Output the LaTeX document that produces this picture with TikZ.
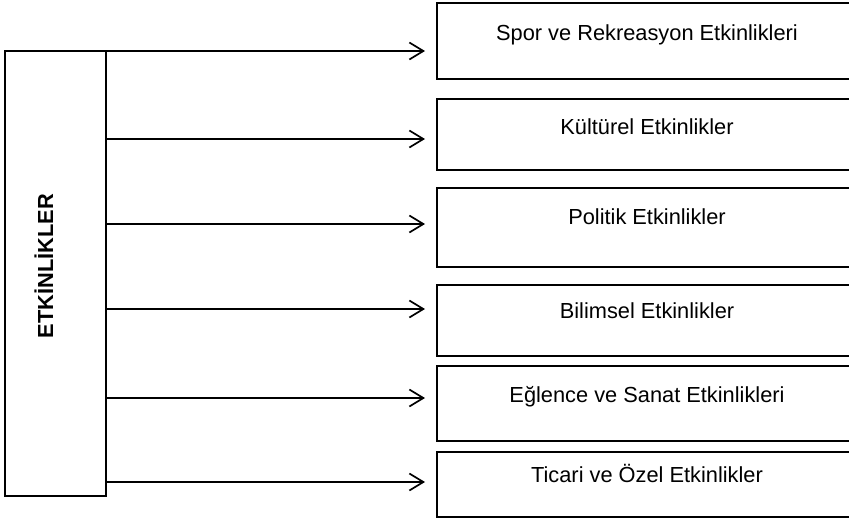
\documentclass[tikz,border=0pt]{standalone}
\usepackage{fontspec}
\setmainfont{Liberation Sans}
\usetikzlibrary{arrows.meta}
\begin{document}
\begin{tikzpicture}[x=1pt,y=-1pt,
  frame/.style={draw, line width=1.8pt, inner sep=0pt, outer sep=0pt, anchor=north west},
  catbox/.style={frame, minimum width=420pt},
  lbl/.style={inner sep=0pt, anchor=base, font=\fontsize{21.8}{24}\selectfont},
  link/.style={line width=1.7pt, -{Straight Barb[length=14pt,width=17pt,line width=1.7pt]}}]
\clip (0,0) rectangle (849,520);
\fill[white] (0,0) rectangle (849,520);

% main category box with vertical title
\node[frame, minimum width=101pt, minimum height=445pt] (main) at (5,51) {};
\node[inner sep=0pt, anchor=base, rotate=90, font=\fontsize{21.8}{24}\selectfont\bfseries] (mainlbl) at (53,266) {ETKİNLİKLER};

% sub-category boxes
\node[catbox, minimum height=76pt] (b1) at (437,3) {};
\node[catbox, minimum height=71pt] (b2) at (437,99) {};
\node[catbox, minimum height=79pt] (b3) at (437,188) {};
\node[catbox, minimum height=71pt] (b4) at (437,285) {};
\node[catbox, minimum height=75pt] (b5) at (437,366) {};
\node[catbox, minimum height=65pt] (b6) at (437,452) {};

\node[lbl] (t1) at (647,40) {Spor ve Rekreasyon Etkinlikleri};
\node[lbl] (t2) at (647,134) {Kültürel Etkinlikler};
\node[lbl] (t3) at (647,224) {Politik Etkinlikler};
\node[lbl] (t4) at (647,318) {Bilimsel Etkinlikler};
\node[lbl] (t5) at (647,402) {Eğlence ve Sanat Etkinlikleri};
\node[lbl] (t6) at (647,482) {Ticari ve Özel Etkinlikler};

% branch points on the right edge of the main box
\coordinate (s1) at (106,51);
\coordinate (s2) at (106,139);
\coordinate (s3) at (106,224);
\coordinate (s4) at (106,309);
\coordinate (s5) at (106,398);
\coordinate (s6) at (106,482);

\draw[link, shorten >=12pt] (s1) -- (s1 -| b1.west);
\draw[link, shorten >=12pt] (s2) -- (s2 -| b2.west);
\draw[link, shorten >=12pt] (s3) -- (s3 -| b3.west);
\draw[link, shorten >=12pt] (s4) -- (s4 -| b4.west);
\draw[link, shorten >=12pt] (s5) -- (s5 -| b5.west);
\draw[link, shorten >=12pt] (s6) -- (s6 -| b6.west);
\end{tikzpicture}
\end{document}
